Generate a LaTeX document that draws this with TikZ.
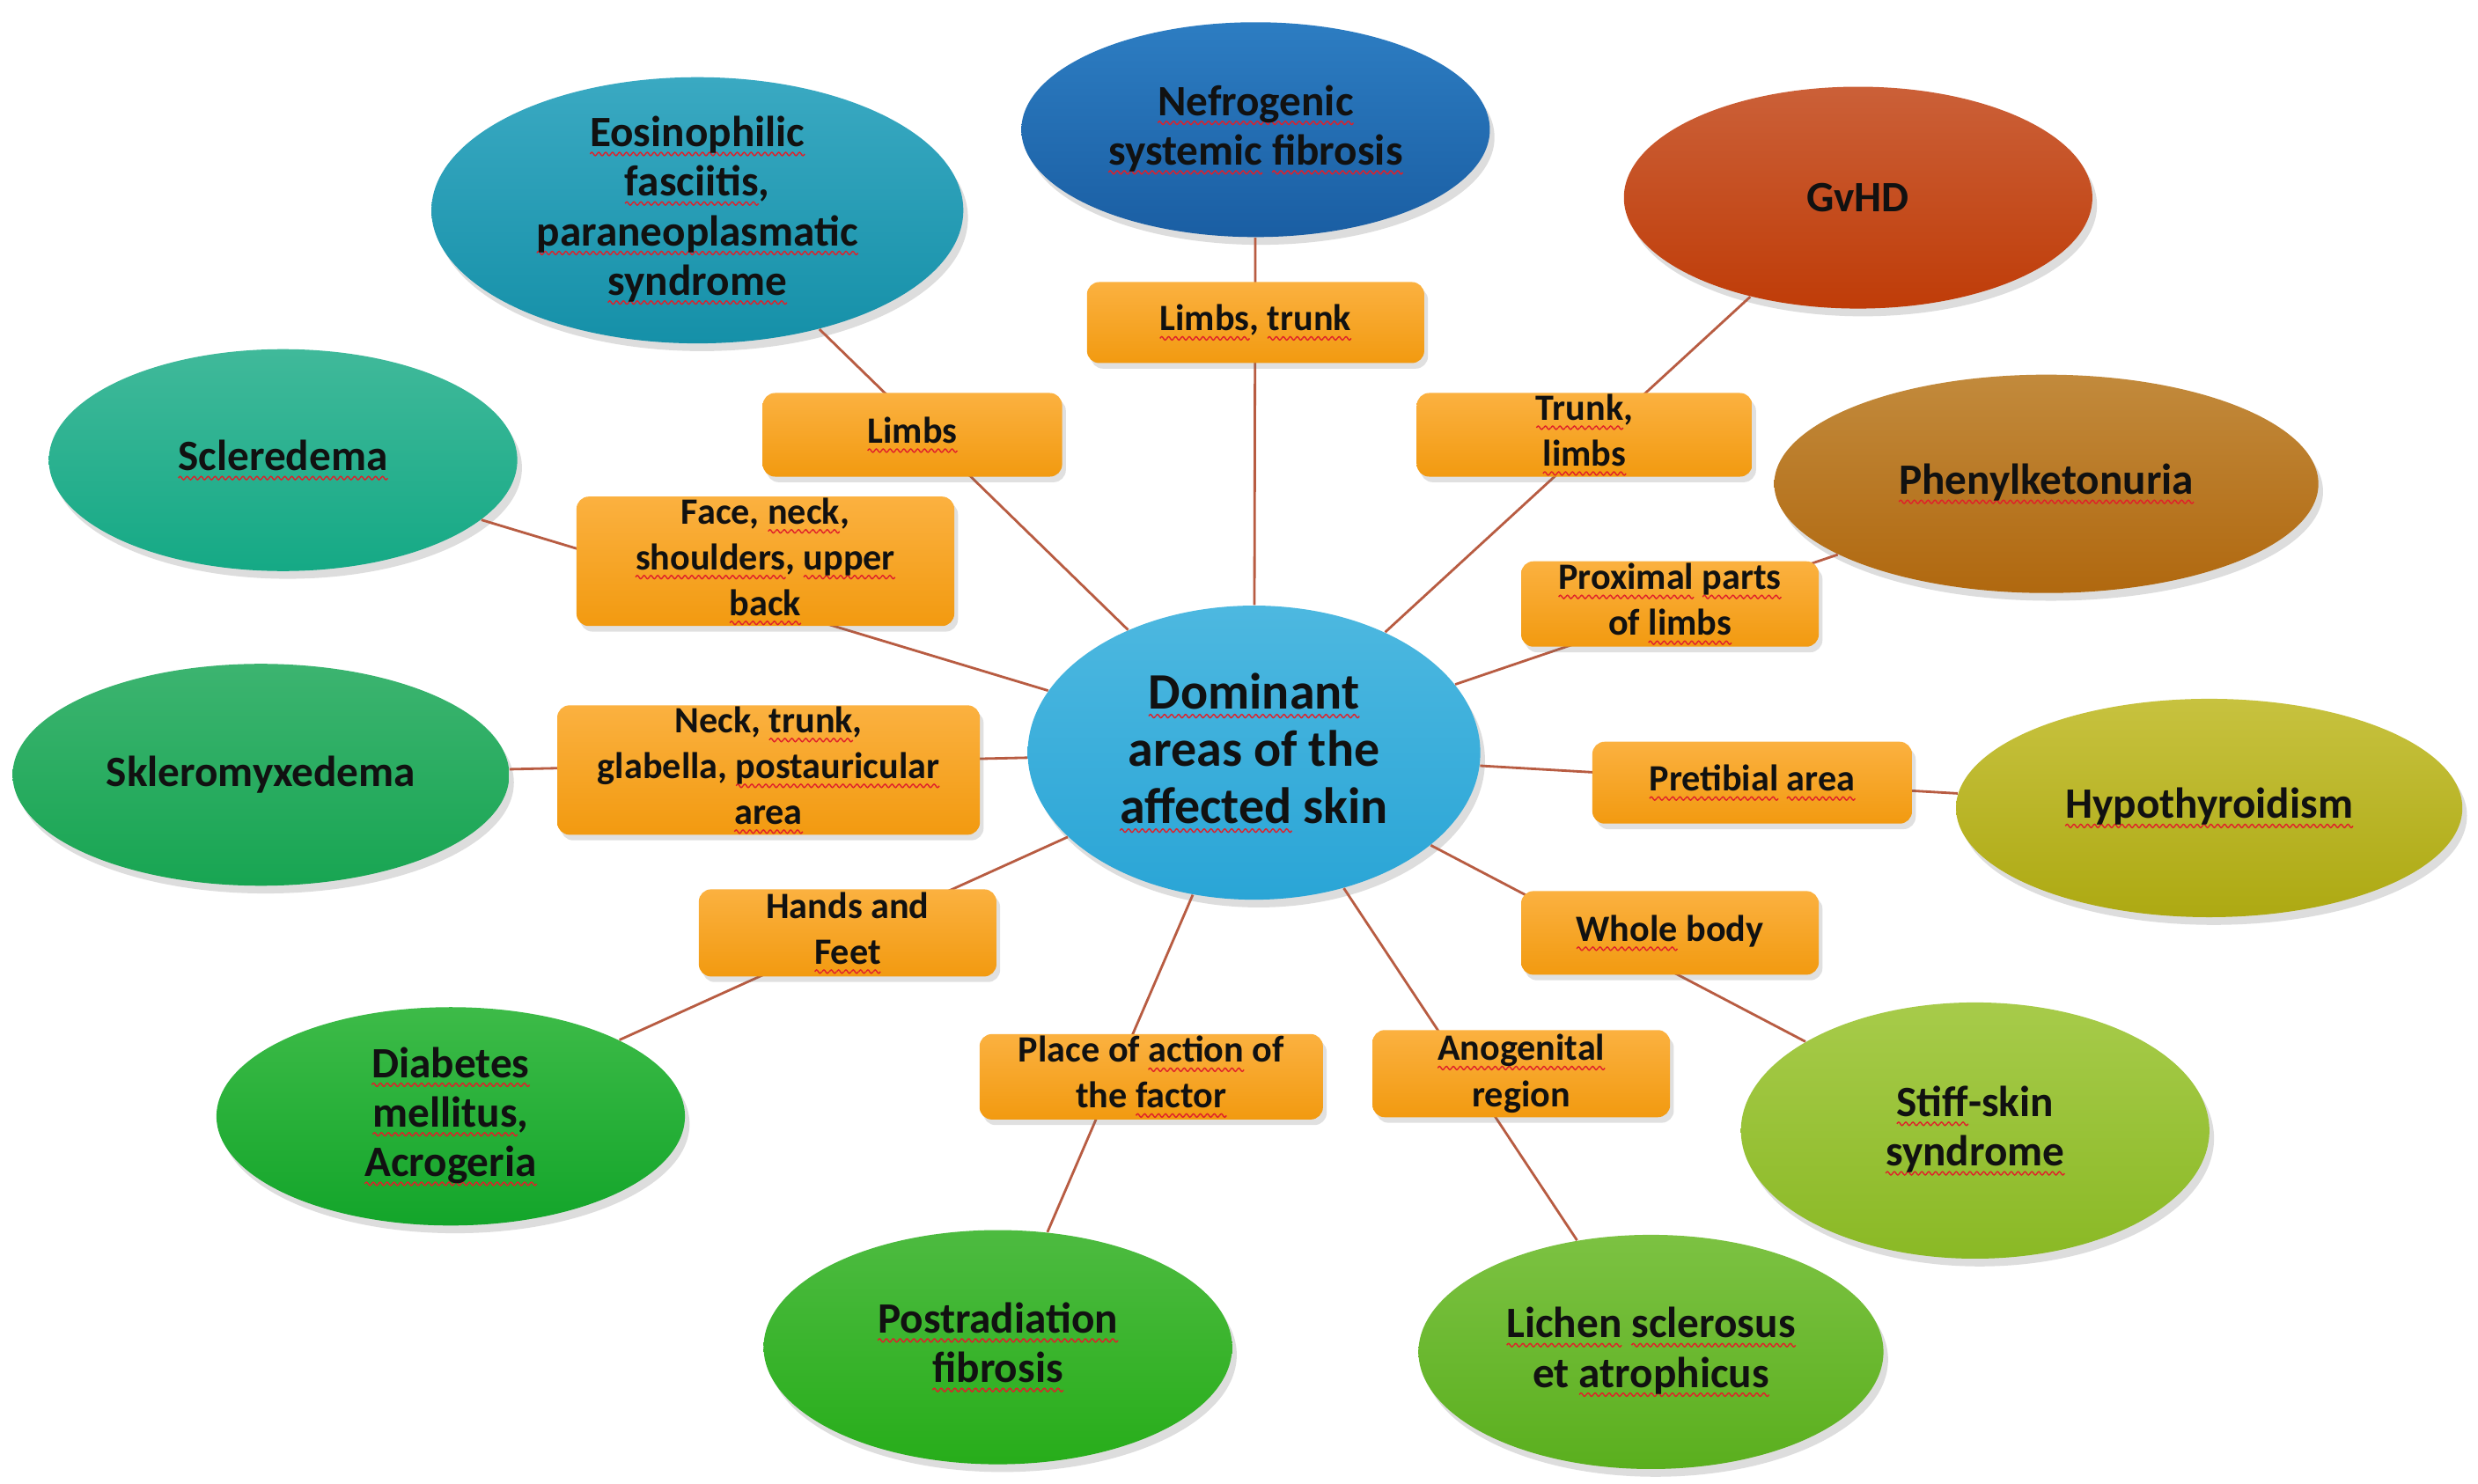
\documentclass[tikz,border=0pt]{standalone}
\usepackage{fontspec}
\setmainfont{Carlito}
\usetikzlibrary{shapes.geometric,shadows}
\definecolor{ctrT}{HTML}{4DB8E0}\definecolor{ctrB}{HTML}{2AA5D6}
\definecolor{nefT}{HTML}{2D7DC2}\definecolor{nefB}{HTML}{1A5EA3}
\definecolor{gvT}{HTML}{CB6038}\definecolor{gvB}{HTML}{BF3C08}
\definecolor{phT}{HTML}{C28A3C}\definecolor{phB}{HTML}{B0680F}
\definecolor{hyT}{HTML}{C7C23F}\definecolor{hyB}{HTML}{ADA912}
\definecolor{stT}{HTML}{A7CB4A}\definecolor{stB}{HTML}{8AB925}
\definecolor{liT}{HTML}{7CC242}\definecolor{liB}{HTML}{5AAF1E}
\definecolor{poT}{HTML}{4DBB40}\definecolor{poB}{HTML}{27AD1A}
\definecolor{diT}{HTML}{3DBB48}\definecolor{diB}{HTML}{13A52A}
\definecolor{skT}{HTML}{3CB470}\definecolor{skB}{HTML}{18A552}
\definecolor{scT}{HTML}{40B99A}\definecolor{scB}{HTML}{15A985}
\definecolor{eoT}{HTML}{3AA9C2}\definecolor{eoB}{HTML}{1590A8}
\definecolor{bxT}{HTML}{FBB140}\definecolor{bxB}{HTML}{F29A10}
\definecolor{linec}{HTML}{B85C42}
\definecolor{wavered}{HTML}{E0202A}
\definecolor{txt}{HTML}{111111}
\newsavebox\wavebox
\newsavebox\wordbox
\newcommand\sq[1]{\sbox\wordbox{#1}\rlap{\raisebox{-3pt}{\hbox to \wd\wordbox{\xleaders\copy\wavebox\hfil}}}\usebox\wordbox}
\newcommand\ellfont{\fontsize{14}{16}\selectfont\bfseries}
\newcommand\boxfont{\fontsize{12}{14.8}\selectfont\bfseries}
\newcommand\ctrfont{\fontsize{16.5}{18.5}\selectfont\bfseries}
\tikzset{
  ell/.style={ellipse, inner sep=0pt, align=center, font=\ellfont, text=txt,
    drop shadow={shadow xshift=1.5pt, shadow yshift=-2.5pt, opacity=0.22, fill=black!60}},
  lbox/.style={rectangle, rounded corners=0.14cm, inner sep=0pt, align=center, font=\boxfont, text=txt,
    top color=bxT, bottom color=bxB,
    drop shadow={shadow xshift=1.2pt, shadow yshift=-1.8pt, opacity=0.2, fill=black!60}},
  conn/.style={draw=linec, line width=0.8pt},
}
\begin{document}
\sbox\wavebox{\begin{pgfpicture}%
  \pgfpathrectangle{\pgfpoint{0pt}{-0.6pt}}{\pgfpoint{2.2pt}{1.2pt}}%
  \pgfusepath{use as bounding box}%
  \pgfsetlinewidth{0.4pt}%
  \pgfsetstrokecolor{wavered}%
  \pgfpathmoveto{\pgfpoint{0pt}{0pt}}%
  \pgfpathsine{\pgfpoint{0.55pt}{0.55pt}}%
  \pgfpathcosine{\pgfpoint{0.55pt}{-0.55pt}}%
  \pgfpathsine{\pgfpoint{0.55pt}{-0.55pt}}%
  \pgfpathcosine{\pgfpoint{0.55pt}{0.55pt}}%
  \pgfusepath{stroke}%
\end{pgfpicture}}%
\begin{tikzpicture}[x=0.017965cm, y=-0.017965cm]
\fill[white] (0,0) rectangle (1567,938);
\useasboundingbox (0,0) rectangle (1567,938);

% central node
\node[ell, font=\ctrfont, minimum width=5.14cm, minimum height=3.34cm, top color=ctrT, bottom color=ctrB] (ctr) at (793,476)
  {\sq{Dominant}\\areas of the\\\sq{affected} skin};

% outer ellipses
\node[ell, minimum width=5.32cm, minimum height=2.44cm, top color=nefT, bottom color=nefB] (nef) at (794,82)
  {\sq{Nefrogenic}\\\sq{systemic} \sq{fibrosis}};
\node[ell, minimum width=5.32cm, minimum height=2.52cm, top color=gvT, bottom color=gvB] (gvhd) at (1175,125)
  {GvHD};
\node[ell, minimum width=6.18cm, minimum height=2.48cm, top color=phT, bottom color=phB] (phen) at (1294,306)
  {\sq{Phenylketonuria}};
\node[ell, minimum width=5.75cm, minimum height=2.48cm, top color=hyT, bottom color=hyB] (hypo) at (1397,511)
  {\sq{Hypothyroidism}};
\node[ell, minimum width=5.32cm, minimum height=2.91cm, top color=stT, bottom color=stB] (stiff) at (1249,715)
  {\sq{Stiff}-skin\\\sq{syndrome}};
\node[ell, minimum width=5.28cm, minimum height=2.66cm, top color=liT, bottom color=liB] (lich) at (1044,855)
  {\sq{Lichen} \sq{sclerosus}\\et \sq{atrophicus}};
\node[ell, minimum width=5.32cm, minimum height=2.66cm, top color=poT, bottom color=poB] (post) at (631,852)
  {\sq{Postradiation}\\\sq{fibrosis}};
\node[ell, minimum width=5.32cm, minimum height=2.48cm, top color=diT, bottom color=diB] (diab) at (285,706)
  {\sq{Diabetes}\\\sq{mellitus},\\\sq{Acrogeria}};
\node[ell, minimum width=5.64cm, minimum height=2.52cm, top color=skT, bottom color=skB] (sklero) at (165,490)
  {Skleromyxedema};
\node[ell, minimum width=5.32cm, minimum height=2.52cm, top color=scT, bottom color=scB] (scler) at (179,291)
  {\sq{Scleredema}};
\node[ell, minimum width=6.04cm, minimum height=2.87cm, top color=eoT, bottom color=eoB] (eos) at (441,133)
  {\sq{Eosinophilic}\\\sq{fasciitis},\\\sq{paraneoplasmatic}\\\sq{syndrome}};

% connectors
\foreach \n in {nef,gvhd,phen,hypo,stiff,lich,post,diab,sklero,scler,eos}
  \draw[conn] (\n) -- (ctr);

% label boxes
\node[lbox, minimum width=3.83cm, minimum height=0.92cm] (bA) at (794,204) {\sq{Limbs}, \sq{trunk}};
\node[lbox, minimum width=3.81cm, minimum height=0.95cm] (bB) at (1002,275) {\sq{Trunk},\\\sq{limbs}};
\node[lbox, minimum width=3.38cm, minimum height=0.97cm] (bC) at (1056,382) {\sq{Proximal} \sq{parts}\\of \sq{limbs}};
\node[lbox, minimum width=3.63cm, minimum height=0.93cm] (bD) at (1108,495) {\sq{Pretibial} \sq{area}};
\node[lbox, minimum width=3.38cm, minimum height=0.95cm] (bE) at (1056,590) {\sq{Whole} body};
\node[lbox, minimum width=3.38cm, minimum height=0.99cm] (bF) at (962,679) {\sq{Anogenital}\\region};
\node[lbox, minimum width=3.90cm, minimum height=0.97cm] (bG) at (728,681) {Place of \sq{action} of\\the \sq{factor}};
\node[lbox, minimum width=3.38cm, minimum height=0.99cm] (bH) at (536,590) {Hands and\\\sq{Feet}};
\node[lbox, minimum width=4.80cm, minimum height=1.47cm] (bI) at (486,487) {Neck, \sq{trunk},\\glabella, \sq{postauricular}\\\sq{area}};
\node[lbox, minimum width=4.29cm, minimum height=1.47cm] (bJ) at (484,355) {Face, \sq{neck},\\\sq{shoulders}, \sq{upper}\\\sq{back}};
\node[lbox, minimum width=3.40cm, minimum height=0.95cm] (bK) at (577,275) {\sq{Limbs}};
\end{tikzpicture}
\end{document}
